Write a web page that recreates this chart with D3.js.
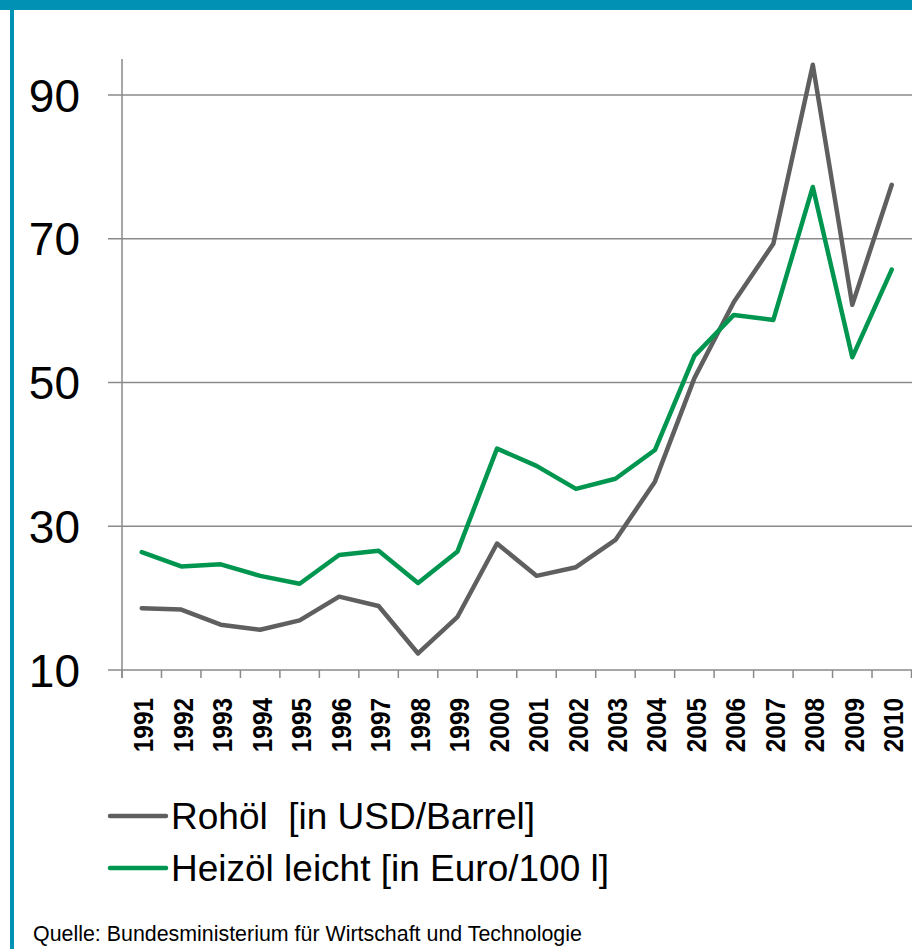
<!DOCTYPE html>
<html>
<head>
<meta charset="utf-8">
<script src="https://cdn.jsdelivr.net/npm/d3@7"></script>
<style>
  body { margin: 0; background: #fff; }
  svg { display: block; }
  text { white-space: pre; }
</style>
</head>
<body>
<div id="chart"></div>
<script>
// Data
const years = ["1991", "1992", "1993", "1994", "1995", "1996", "1997", "1998", "1999", "2000",
    "2001", "2002", "2003", "2004", "2005", "2006", "2007", "2008", "2009", "2010"];
const rohoel = [18.6, 18.4, 16.3, 15.6, 16.9, 20.2, 18.9, 12.3, 17.4, 27.6,
    23.1, 24.3, 28.1, 36.2, 50.6, 61.2, 69.3, 94.2, 60.8, 77.5];
const heizoel = [26.4, 24.4, 24.7, 23.1, 22.0, 26.0, 26.6, 22.1, 26.5, 40.8,
    38.4, 35.2, 36.6, 40.6, 53.7, 59.4, 58.7, 77.2, 53.5, 65.7];
const yTicks = [10, 30, 50, 70, 90];
const seriesNames = ["Rohöl  [in USD/Barrel]", "Heizöl leicht [in Euro/100 l]"];
const sourceText = "Quelle: Bundesministerium für Wirtschaft und Technologie";

const width = 912, height = 949;
const colors = ["#5f5f5f", "#00964f"];
const font = "Liberation Sans, Arial, sans-serif";

let svg = d3.select("#chart")
    .append("svg")
    .attr("width", width)
    .attr("height", height);

// frame: blue bar on top and left edge
svg.append("rect").attr("x", 0).attr("y", 0).attr("width", width).attr("height", 10).attr("fill", "#0091b5");
svg.append("rect").attr("x", 10).attr("y", 0).attr("width", 4).attr("height", height).attr("fill", "#0091b5");

// scales
const x = d3.scaleBand().domain(years).range([122, 911.5]);
const y = d3.scaleLinear().domain([10, 95]).range([670, 59]);

// gridlines
svg.selectAll(".grid")
    .data(yTicks.slice(1))
    .enter()
    .append("line")
    .attr("x1", 108).attr("x2", width)
    .attr("y1", d => y(d)).attr("y2", d => y(d))
    .style("stroke", "#8a8a8a")
    .style("stroke-width", 1.5);

// y axis
svg.append("line")
    .attr("x1", 122).attr("x2", 122)
    .attr("y1", 59).attr("y2", 678)
    .style("stroke", "#8a8a8a")
    .style("stroke-width", 1.5);

svg.selectAll(".ylab")
    .data(yTicks)
    .enter()
    .append("text")
    .attr("x", 80)
    .attr("y", d => y(d))
    .attr("dy", "0.36em")
    .attr("text-anchor", "end")
    .style("font-family", font)
    .style("font-size", "46px")
    .style("fill", "#000")
    .text(d => d);

// x axis
svg.append("line")
    .attr("x1", 108).attr("x2", width)
    .attr("y1", 670).attr("y2", 670)
    .style("stroke", "#8a8a8a")
    .style("stroke-width", 1.5);

// tick marks on band edges
const edges = years.map(d => x(d)).concat([x(years[years.length - 1]) + x.bandwidth()]);
svg.selectAll(".xtick")
    .data(edges)
    .enter()
    .append("line")
    .attr("x1", d => d).attr("x2", d => d)
    .attr("y1", 670).attr("y2", 678)
    .style("stroke", "#8a8a8a")
    .style("stroke-width", 1.5);

svg.selectAll(".xlab")
    .data(years)
    .enter()
    .append("text")
    .attr("transform", d => `translate(${x(d) + x.bandwidth() / 2 + 1.5}, 698) rotate(-90) scale(0.87, 1)`)
    .attr("dy", "0.36em")
    .attr("text-anchor", "end")
    .style("font-family", font)
    .style("font-weight", "bold")
    .style("font-size", "28px")
    .style("fill", "#000")
    .text(d => d);

// lines
const line = d3.line()
    .x((d, i) => x(years[i]) + x.bandwidth() / 2)
    .y(d => y(d));

[rohoel, heizoel].forEach(function (vals, k) {
    svg.append("path")
        .datum(vals)
        .attr("d", line)
        .style("fill", "none")
        .style("stroke", colors[k])
        .style("stroke-width", 4.5)
        .style("stroke-linejoin", "round")
        .style("stroke-linecap", "round");
});

// legend
const legendY = [816, 868];
seriesNames.forEach(function (name, k) {
    svg.append("line")
        .attr("x1", 110).attr("x2", 166)
        .attr("y1", legendY[k]).attr("y2", legendY[k])
        .style("stroke", colors[k])
        .style("stroke-width", 4.5)
        .style("stroke-linecap", "round");
    svg.append("text")
        .attr("x", 171)
        .attr("y", legendY[k] + 13)
        .style("font-family", font)
        .style("font-size", "37px")
        .style("fill", "#000")
        .text(name);
});

// source
svg.append("text")
    .attr("x", 33)
    .attr("y", 941)
    .style("font-family", font)
    .style("font-size", "21.4px")
    .style("fill", "#000")
    .text(sourceText);
</script>
</body>
</html>
